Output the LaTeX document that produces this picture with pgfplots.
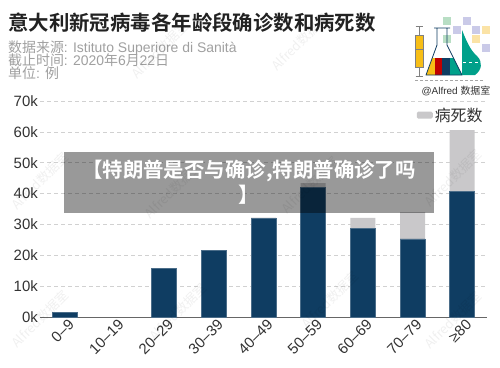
\documentclass[border=0pt]{standalone}
\usepackage{fontspec}
\setmainfont{Liberation Sans}
\newfontfamily\cjk{Noto Sans CJK SC}
\newfontfamily\cjkb{Noto Sans CJK SC Bold}
\usepackage{pgfplots}
\pgfplotsset{compat=1.18}
\definecolor{conf}{HTML}{0F3D62}
\definecolor{death}{HTML}{C9C8CA}
\definecolor{titlec}{HTML}{222222}
\definecolor{subc}{HTML}{A0A0A0}
\definecolor{tickc}{HTML}{333333}
\definecolor{lgreen}{HTML}{B8DEC4}
\definecolor{llav}{HTML}{CACAE8}
\definecolor{lyel}{HTML}{FBE3A6}
\definecolor{yel}{HTML}{F7BE16}
\definecolor{red1}{HTML}{C00000}
\definecolor{teal1}{HTML}{00A08A}
\begin{document}
\begin{tikzpicture}
\begin{scope}[x=1bp,y=1bp,shift={(-40bp,317bp)}]
\path[use as bounding box, fill=white] (0,0) rectangle (500,-367);
\end{scope}
\begin{axis}[
  at={(0,0)}, anchor=south west,
  scale only axis, width=447bp, height=216bp,
  xmin=-0.5, xmax=8.5, ymin=0, ymax=70,
  ybar stacked, bar width=25bp,
  axis line style={draw=none},
  major tick length=0pt,
  ytick={0,10,20,30,40,50,60,70},
  yticklabels={0k,10k,20k,30k,40k,50k,60k,70k},
  ymajorgrids, grid style={dash pattern=on 4bp off 3bp, color=black!18, line width=0.6},
  yticklabel style={font=\fontsize{15}{15}\selectfont, text=tickc, inner sep=2bp},
  xtick={0,1,2,3,4,5,6,7,8},
  xticklabels={0–9,10–19,20–29,30–39,40–49,50–59,60–69,70–79,≥80},
  xticklabel style={rotate=45, anchor=north east, font=\fontsize{15}{15}\selectfont, text=tickc, inner sep=1bp, yshift=-2bp, xshift=2bp},
  legend style={at={(0.995,0.935)}, anchor=east, draw=none, fill=none, inner sep=0pt, font=\cjk\fontsize{16}{16}\selectfont, text=tickc},
  legend image code/.code={\fill[death, rounded corners=1.5bp] (0bp,-3.5bp) rectangle (16bp,3.5bp);},
  clip=false,
]
\addplot[fill=conf, draw=conf!75!white, line width=0.4, forget plot] coordinates {(0,1.6) (1,0) (2,15.8) (3,21.6) (4,32.0) (5,42.1) (6,28.8) (7,25.3) (8,40.8)};
\addplot[fill=death, draw=none] coordinates {(0,0) (1,0) (2,0) (3,0) (4,0.2) (5,1.3) (6,3.3) (7,8.7) (8,19.8)};
\addlegendentry{病死数}
\draw[black!60, line width=0.8] (rel axis cs:0,0) -- (rel axis cs:1,0);
\end{axis}
\begin{scope}[x=1bp,y=1bp,shift={(-40bp,317bp)}]
% titles
\node[anchor=base west, inner sep=0, text=titlec, font=\cjkb\fontsize{20.5}{20.5}\selectfont] at (8,-30.5) {意大利新冠病毒各年龄段确诊数和病死数};
\node[anchor=base west, inner sep=0, text=subc, font=\fontsize{14}{14}\selectfont] at (8,-52) {{\cjk 数据来源}: Istituto Superiore di Sanità};
\node[anchor=base west, inner sep=0, text=subc, font=\fontsize{14}{14}\selectfont] at (8,-65) {{\cjk 截止时间}: 2020{\cjk 年}6{\cjk 月}22{\cjk 日}};
\node[anchor=base west, inner sep=0, text=subc, font=\fontsize{14}{14}\selectfont] at (8,-78) {{\cjk 单位}: {\cjk 例}};
% logo
\fill[lgreen] (443,-17) rectangle (451,-25);
\fill[llav] (463,-17) rectangle (471,-25);
\fill[llav] (453,-26) rectangle (461,-34);
\fill[lyel] (482,-26) rectangle (490,-34);
\fill[llav] (472,-26) rectangle (480,-34);
\fill[lgreen] (443,-35) rectangle (451,-43);
\fill[lyel] (472,-35) rectangle (480,-43);
\fill[llav] (482,-44) rectangle (490,-52);
\draw[gray, line width=0.6] (419,-26) -- (419,-76);
\draw[gray, line width=0.6] (415.5,-26) -- (422.5,-26) (415.5,-76) -- (422.5,-76);
\filldraw[fill=yel, draw=gray, line width=0.5] (415,-35) rectangle (423,-67);
\draw[gray, line width=0.5] (415,-49) -- (423,-49);
\begin{scope}
\clip (437,-28) -- (437,-45) -- (426,-75) -- (462,-75) -- (447,-45) -- (447,-28) -- cycle;
\fill[yel] (420,-58) rectangle (435,-76);
\fill[red1] (435,-58) rectangle (442,-76);
\fill[conf] (442,-58) rectangle (450,-76);
\fill[teal1] (450,-58) rectangle (465,-76);
\end{scope}
\draw[conf, line width=0.8, line join=round] (434,-28) -- (450,-28) (437,-28) -- (437,-45) -- (426,-75) -- (462,-75) -- (447,-45) -- (447,-28);
\fill[teal1] (462,-30) .. controls (466,-40) and (470,-50) .. (477,-56) .. controls (483,-62) and (482,-70) .. (475,-75) -- (462,-75) -- cycle;
\draw[white, dashed, line width=0.4] (463,-62) -- (480,-62);
\draw[gray!70, line width=0.5, dash pattern=on 3bp off 2bp] (415,-80) -- (483,-80);
\node[anchor=base, inner sep=0, text=tickc, font=\fontsize{10}{10}\selectfont] at (456,-94) {@Alfred {\cjk 数据室}};
% watermarks
\foreach \px/\py in {40/-319,178/-312,330/-300,453/-320,40/-181,173/-190,310/-185,453/-178,160/-50,300/-42}{
  \node[rotate=45, text=black, opacity=0.06, font=\cjk\fontsize{13}{13}\selectfont] at (\px,\py) {Alfred数据室};
}
% banner
\fill[black, opacity=0.4] (64,-152) rectangle (434,-213);
\node[align=center, inner sep=0, text=white, font=\cjkb\fontsize{20.5}{25}\selectfont] at (249,-182.5) {【特朗普是否与确诊,特朗普确诊了吗\\】};
\end{scope}
\end{tikzpicture}
\end{document}
